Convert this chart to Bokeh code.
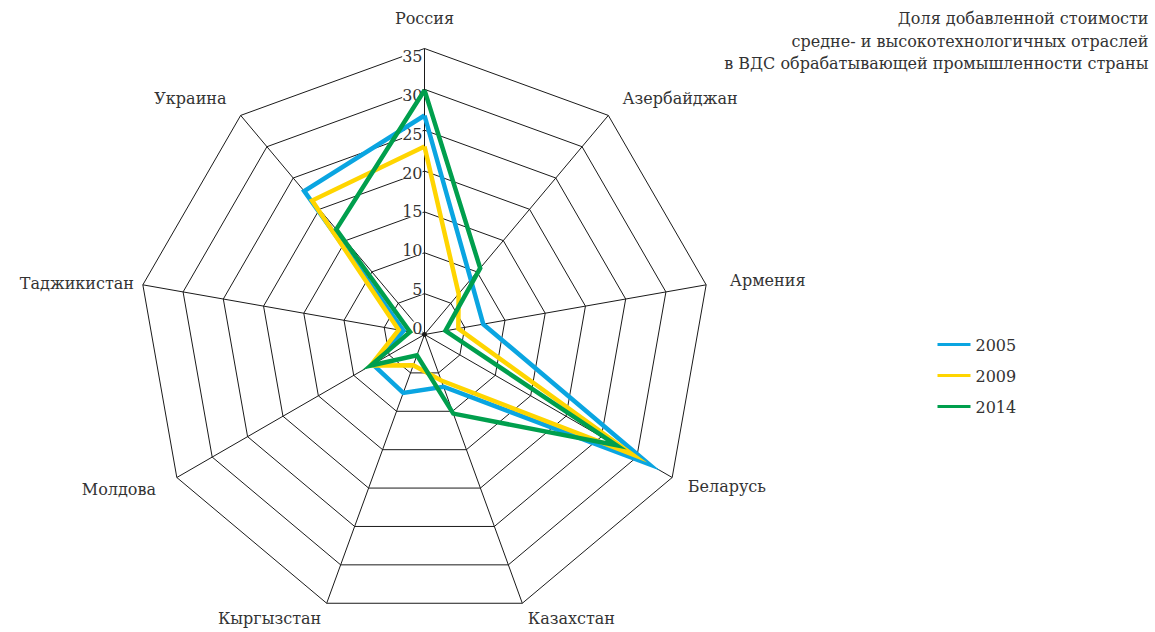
import numpy as np
from bokeh.plotting import figure
from bokeh.models import Range1d
from bokeh.core.properties import value
from bokeh.embed import file_html
from bokeh.resources import INLINE

# ---------------- data ----------------
countries = ["Россия", "Азербайджан", "Армения", "Беларусь", "Казахстан",
             "Кыргызстан", "Молдова", "Таджикистан", "Украина"]
years = ["2005", "2009", "2014"]
v2005 = [26.8, 8.8, 7.3, 31.7, 6.8, 7.6, 7.3, 2.6, 22.9]
v2009 = [23.0, 6.5, 4.2, 29.3, 6.0, 4.0, 7.6, 3.2, 21.4]
v2014 = [29.9, 10.6, 2.6, 27.1, 10.3, 2.7, 7.6, 1.8, 16.8]
ticks = [0, 5, 10, 15, 20, 25, 30, 35]
title_lines = ["Доля добавленной стоимости",
               "средне- и высокотехнологичных отраслей",
               "в ВДС обрабатывающей промышленности страны"]

# ---------------- style / layout ----------------
colors = ["#0AA5E1", "#FFD500", "#009F4D"]
FONT = "DejaVu Serif"
FS = "16px"
W, H = 1155, 632
CX, CY = 424, 334          # chart centre in canvas px (from top-left)
RMAX = 35
S = 286 / RMAX             # px per unit
label_r_px = [316, 308, 310, 304, 302, 302, 310, 295, 308]

def px(v):
    return v / S

p = figure(width=W, height=H,
           x_range=Range1d(-CX / S, (W - CX) / S),
           y_range=Range1d(-(H - CY) / S, CY / S),
           output_backend="svg", toolbar_location=None,
           x_axis_location=None, y_axis_location=None,
           min_border=0, outline_line_color=None,
           background_fill_color="white", border_fill_color="white")
p.xgrid.visible = False
p.ygrid.visible = False

n = len(countries)
ang = np.pi / 2 - np.arange(n) * 2 * np.pi / n
ca, sa = np.cos(ang), np.sin(ang)

# rings
ring_xs, ring_ys = [], []
for t in ticks[1:]:
    ring_xs.append(list(np.append(t * ca, t * ca[0])))
    ring_ys.append(list(np.append(t * sa, t * sa[0])))
p.multi_line(ring_xs, ring_ys, line_color="#1a1a1a", line_width=1)

# spokes
p.segment(x0=np.zeros(n), y0=np.zeros(n), x1=RMAX * ca, y1=RMAX * sa,
          line_color="#1a1a1a", line_width=1)

# tick labels on the top axis
p.text(x=[px(-2)] * len(ticks), y=[px(7 + t * 7.743) for t in ticks],
       text=[str(t) for t in ticks], text_align="right", text_baseline="middle",
       text_font=value(FONT), text_font_size=FS, text_color="#333333",
       background_fill_color="white")

# category labels
aligns = ["center" if abs(c) < 0.1 else ("left" if c > 0 else "right") for c in ca]
for i, name in enumerate(countries):
    rl = px(label_r_px[i])
    p.text(x=[rl * ca[i]], y=[rl * sa[i]], text=[name], text_align=aligns[i],
           text_baseline="middle", text_font=value(FONT), text_font_size=FS,
           text_color="#333333")

# data lines
for vals, col in zip([v2005, v2009, v2014], colors):
    v = np.array(vals)
    xs = list(np.append(v * ca, v[0] * ca[0]))
    ys = list(np.append(v * sa, v[0] * sa[0]))
    p.line(xs, ys, line_color=col, line_width=4.5, line_join="miter")

p.scatter([0], [0], size=4, color="#1a1a1a")

# title (top right)
p.text(x=[px(1148 - CX)] * 3, y=[px(CY - yy) for yy in (18, 41, 63)],
       text=title_lines, text_align="right", text_baseline="middle",
       text_font=value(FONT), text_font_size=FS, text_color="#333333")

# legend
for k, (yr, col) in enumerate(zip(years, colors)):
    yy = px(CY - (344 + 31 * k))
    p.segment(x0=[px(937 - CX)], y0=[yy], x1=[px(970 - CX)], y1=[yy],
              line_color=col, line_width=3)
    p.text(x=[px(975 - CX)], y=[yy], text=[yr], text_align="left",
           text_baseline="middle", text_font=value(FONT), text_font_size=FS,
           text_color="#333333")

open("out.html", "w").write(file_html(p, INLINE))
